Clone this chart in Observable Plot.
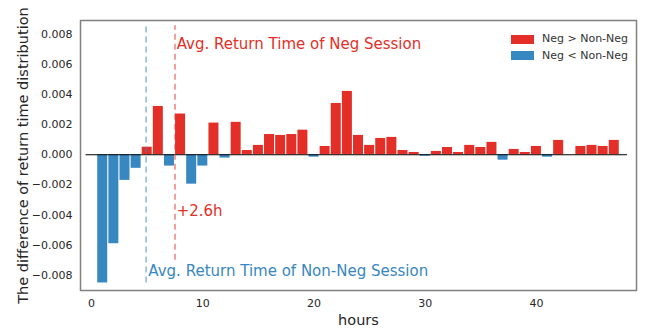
<!DOCTYPE html>
<html>
<head>
<meta charset="utf-8">
<script src="https://cdn.jsdelivr.net/npm/d3@7"></script>
<script src="https://cdn.jsdelivr.net/npm/@observablehq/plot@0.6"></script>
<style>
  html, body { margin: 0; padding: 0; background: #fff; }
  #wrap { position: relative; width: 649px; height: 333px; font-family: "DejaVu Sans", sans-serif; }
  #legend { position: absolute; left: 511px; top: 31px; font-size: 11px; color: #333; line-height: 16.5px; }
  #legend .row { display: flex; align-items: center; }
  #legend .sw { width: 23px; height: 9px; margin-right: 8px; }
</style>
</head>
<body>
<div id="wrap"></div>
<script>
const hours = [1,2,3,4,5,6,7,8,9,10,11,12,13,14,15,16,17,18,19,20,21,22,23,24,25,26,27,28,29,30,31,32,33,34,35,36,37,38,39,40,41,42,43,44,45,46,47];
const diffs = [-0.0085,-0.0059,-0.0017,-0.0009,0.0005,0.0032,-0.00075,0.0027,-0.00195,-0.00075,
               0.0021,-0.00022,0.00215,0.00028,0.00062,0.00134,0.00128,0.00134,0.00163,-0.00016,
               0.00055,0.0034,0.0042,0.00128,0.00062,0.00108,0.00115,0.00028,0.00015,-0.0001,
               0.00022,0.00048,0.00015,0.00062,0.00048,0.00082,-0.00036,0.00035,0.00015,0.00055,
               -0.00016,0.00095,0,0.00055,0.00062,0.00055,0.00095];
const xTicks = [0,10,20,30,40];
const yTicks = [-0.008,-0.006,-0.004,-0.002,0,0.002,0.004,0.006,0.008];
const seriesNames = ["Neg > Non-Neg","Neg < Non-Neg"];
const seriesColors = ["#e32f27","#3787c0"];
const avgNonNeg = 4.9;
const avgNeg = 7.5;
const labelNeg = "Avg. Return Time of Neg Session";
const labelNonNeg = "Avg. Return Time of Non-Neg Session";
const labelDelta = "+2.6h";
const xLabel = "hours";
const yLabel = "The difference of return time distribution";

const data = hours.map((h, i) => ({hour: h, value: diffs[i], series: diffs[i] >= 0 ? seriesNames[0] : seriesNames[1]}));

const chart = Plot.plot({
  width: 649,
  height: 333,
  marginLeft: 80,
  marginRight: 13,
  marginTop: 20,
  marginBottom: 43,
  style: {fontFamily: "DejaVu Sans, sans-serif", fontSize: "11px", color: "#262626", background: "#fff"},
  x: {domain: [-1, 49], ticks: xTicks, tickSize: 0, tickPadding: 9, label: xLabel, labelArrow: "none", labelAnchor: "center", labelOffset: 34},
  y: {domain: [-0.009, 0.0089], ticks: yTicks, tickSize: 0, tickPadding: 8, tickFormat: d => d.toFixed(3).replace("-", "\u2212"),
      label: yLabel, labelArrow: "none", labelAnchor: "center", labelOffset: 63},
  color: {domain: seriesNames, range: seriesColors},
  marks: [
    Plot.rectY(data, {x1: d => d.hour - 0.45, x2: d => d.hour + 0.45, y1: 0, y2: "value", fill: "series"}),
    Plot.ruleY([0], {x1: -0.5, x2: 48.2, stroke: "#000", strokeWidth: 1.2}),
    Plot.ruleX([avgNonNeg], {y1: -0.0085, y2: 0.00855, stroke: "#3787c0", strokeOpacity: 0.6, strokeWidth: 1.5, strokeDasharray: "6,4"}),
    Plot.ruleX([avgNeg], {y1: -0.007, y2: 0.00855, stroke: "#e32f27", strokeOpacity: 0.6, strokeWidth: 1.5, strokeDasharray: "6,4"}),
    Plot.text([labelNeg], {x: avgNeg + 0.15, y: 0.0073, text: d => d, fill: "#e32f27", textAnchor: "start", fontSize: 15}),
    Plot.text([labelDelta], {x: avgNeg + 0.15, y: -0.00375, text: d => d, fill: "#e32f27", textAnchor: "start", fontSize: 15}),
    Plot.text([labelNonNeg], {x: avgNonNeg + 0.2, y: -0.0077, text: d => d, fill: "#3787c0", textAnchor: "start", fontSize: 15}),
    Plot.frame({stroke: "#808080", strokeWidth: 1.5})
  ]
});
chart.querySelectorAll("[aria-label='x-axis label'] text, [aria-label='y-axis label'] text").forEach(t => {
  t.style.fontSize = "14.5px";
  t.textContent = t.textContent.replace(/\s*[\u2190-\u2193]\s*/g, "");
});
const wrap = document.getElementById("wrap");
wrap.appendChild(chart);
const legend = document.createElement("div");
legend.id = "legend";
legend.innerHTML = seriesNames.map((n, i) => `<div class="row"><div class="sw" style="background:${seriesColors[i]}"></div><span>${n}</span></div>`).join("");
wrap.appendChild(legend);
</script>
</body>
</html>
